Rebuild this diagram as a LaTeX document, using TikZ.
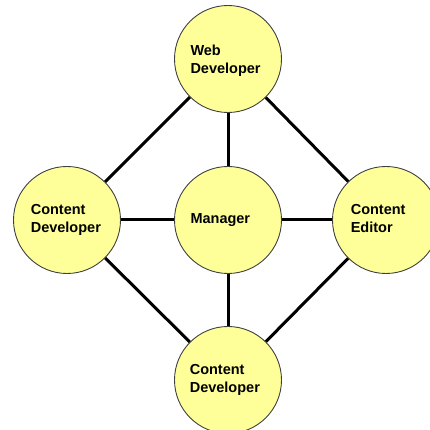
\documentclass[tikz,border=0pt]{standalone}
\usepackage{fontspec}
\setmainfont{Liberation Sans}
\usetikzlibrary{backgrounds}
\definecolor{bubblefill}{RGB}{255,255,153}
\begin{document}
\begin{tikzpicture}[x=1pt,y=1pt,
  bubble/.style={circle,draw=black!75,line width=0.9pt,fill=bubblefill,
    minimum size=107pt,inner sep=0pt,outer sep=0pt},
  link/.style={line width=3pt,line cap=butt},
  caption/.style={anchor=north west,inner sep=0pt,outer sep=0pt,align=left,
    font=\fontsize{14.5}{18}\selectfont\bfseries}]
\useasboundingbox (0,0) rectangle (430,430);
\clip (0,0) rectangle (430,430);
% role bubbles
\node[bubble] (web)   at (228,371) {};
\node[bubble] (cdev)  at (67,210)  {};
\node[bubble] (mgr)   at (228,210) {};
\node[bubble] (ced)   at (386,210) {};
\node[bubble] (cdev2) at (228,50)  {};
% connections, kept behind the bubbles
\begin{pgfonlayer}{background}
  \draw[link] (web) -- (cdev);
  \draw[link] (web) -- (ced);
  \draw[link] (cdev) -- (cdev2);
  \draw[link] (ced) -- (cdev2);
  \draw[link] (mgr) -- (web);
  \draw[link] (mgr) -- (cdev);
  \draw[link] (mgr) -- (ced);
  \draw[link] (mgr) -- (cdev2);
\end{pgfonlayer}
% labels
\node[caption] (tweb)   at (190.5,385.3) {Web\\Developer};
\node[caption] (tcdev)  at (30.8,226)    {Content\\Developer};
\node[caption] (tmgr)   at (190.5,216)   {Manager};
\node[caption] (tced)   at (350.8,226)   {Content\\Editor};
\node[caption] (tcdev2) at (189.8,65.3)  {Content\\Developer};
\end{tikzpicture}
\end{document}
